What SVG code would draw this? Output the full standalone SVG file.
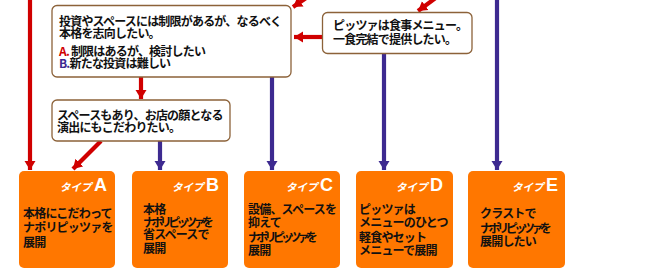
<svg xmlns="http://www.w3.org/2000/svg" width="658" height="269" viewBox="0 0 658 269">
<defs>
<marker id="ar" markerUnits="userSpaceOnUse" markerWidth="12" markerHeight="12" refX="9" refY="6" orient="auto">
<path d="M0,0.5 L9,6 L0,11.5 Z" fill="#D00000"/>
</marker>
<marker id="ap" markerUnits="userSpaceOnUse" markerWidth="12" markerHeight="12" refX="9" refY="6" orient="auto">
<path d="M0,0.5 L9,6 L0,11.5 Z" fill="#3D2A90"/>
</marker>
</defs>
<style>
.r{stroke:#D00000;stroke-width:4.2;fill:none;marker-end:url(#ar)}
.p{stroke:#3D2A90;stroke-width:4.2;fill:none;marker-end:url(#ap)}
.q{fill:#fff;stroke:#8C6239;stroke-width:1.3}
.o{fill:#FF7700}
.t{font-family:"Noto Sans CJK JP",sans-serif;font-size:12px;letter-spacing:-0.8px;fill:#111;font-weight:bold}
.ty{font-family:"Noto Sans CJK JP",sans-serif;font-size:10.5px;fill:#fff;font-weight:bold;font-style:italic}
.tl{font-family:"Liberation Sans",Arial,sans-serif;font-size:18px;fill:#fff;font-weight:bold}
</style>
<g id="connectors">
<line class="r" x1="30" y1="0" x2="30" y2="170"/>
<line class="r" x1="312" y1="-6" x2="293" y2="7"/>
<line class="r" x1="437" y1="-3" x2="418" y2="11"/>
<line class="r" x1="322" y1="37" x2="294" y2="37"/>
<line class="r" x1="141" y1="77" x2="141" y2="99"/>
<line class="r" x1="101" y1="141" x2="73" y2="169"/>
<line class="p" x1="160" y1="141" x2="160" y2="170"/>
<line class="p" x1="272" y1="77" x2="272" y2="170"/>
<line class="p" x1="384" y1="53" x2="384" y2="170"/>
<line class="p" x1="497" y1="0" x2="497" y2="170"/>
</g>
<g id="q1">
<rect class="q" x="52" y="5.5" width="239" height="71.5" rx="5"/>
<text class="t" x="59" y="26">投資やスペースには制限があるが、なるべく</text>
<text class="t" x="59" y="38">本格を志向したい。</text>
<text class="t" x="59" y="55.5"><tspan fill="#D00000">A.</tspan> 制限はあるが、検討したい</text>
<text class="t" x="59" y="67.5"><tspan fill="#3D2A90">B.</tspan>新たな投資は難しい</text>
</g>
<g id="q2">
<rect class="q" x="322.5" y="12.5" width="149.5" height="41" rx="5"/>
<text class="t" x="333" y="30">ピッツァは食事メニュー。</text>
<text class="t" x="333" y="43.5">一食完結で提供したい。</text>
</g>
<g id="q3">
<rect class="q" x="52" y="100" width="178" height="41" rx="5"/>
<text class="t" x="57" y="119.5">スペースもあり、お店の顔となる</text>
<text class="t" x="57" y="131.5">演出にもこだわりたい。</text>
</g>
<g id="typeA">
<rect class="o" x="19" y="171" width="96" height="97" rx="5"/>
<text x="107" y="191" text-anchor="end"><tspan class="ty">タイプ </tspan><tspan class="tl">A</tspan></text>
<text class="t" x="23" y="217.5">本格にこだわって</text>
<text class="t" x="23" y="232">ナポリピッツァを</text>
<text class="t" x="23" y="246.5">展開</text>
</g>
<g id="typeB">
<rect class="o" x="132" y="171" width="96" height="97" rx="5"/>
<text x="219" y="191" text-anchor="end"><tspan class="ty">タイプ </tspan><tspan class="tl">B</tspan></text>
<text class="t" x="143" y="213.5">本格</text>
<text class="t" x="143" y="226.5" textLength="70">ナポリピッツァを</text>
<text class="t" x="143" y="239">省スペースで</text>
<text class="t" x="143" y="252.5">展開</text>
</g>
<g id="typeC">
<rect class="o" x="244" y="171" width="96" height="97" rx="5"/>
<text x="333" y="191" text-anchor="end"><tspan class="ty">タイプ </tspan><tspan class="tl">C</tspan></text>
<text class="t" x="248" y="213.5">設備、スペースを</text>
<text class="t" x="248" y="226.5">抑えて</text>
<text class="t" x="248" y="241.5" textLength="69">ナポリピッツァを</text>
<text class="t" x="248" y="254.5">展開</text>
</g>
<g id="typeD">
<rect class="o" x="356" y="171" width="97" height="97" rx="5"/>
<text x="443" y="191" text-anchor="end"><tspan class="ty">タイプ </tspan><tspan class="tl">D</tspan></text>
<text class="t" x="359" y="213.5">ピッツァは</text>
<text class="t" x="359" y="226.5">メニューのひとつ</text>
<text class="t" x="359" y="241.5">軽食やセット</text>
<text class="t" x="359" y="254.5">メニューで展開</text>
</g>
<g id="typeE">
<rect class="o" x="468" y="171" width="97" height="97" rx="5"/>
<text x="558" y="191" text-anchor="end"><tspan class="ty">タイプ </tspan><tspan class="tl">E</tspan></text>
<text class="t" x="480" y="217.5">クラストで</text>
<text class="t" x="480" y="232.5" textLength="71">ナポリピッツァを</text>
<text class="t" x="480" y="245.5">展開したい</text>
</g>
</svg>
